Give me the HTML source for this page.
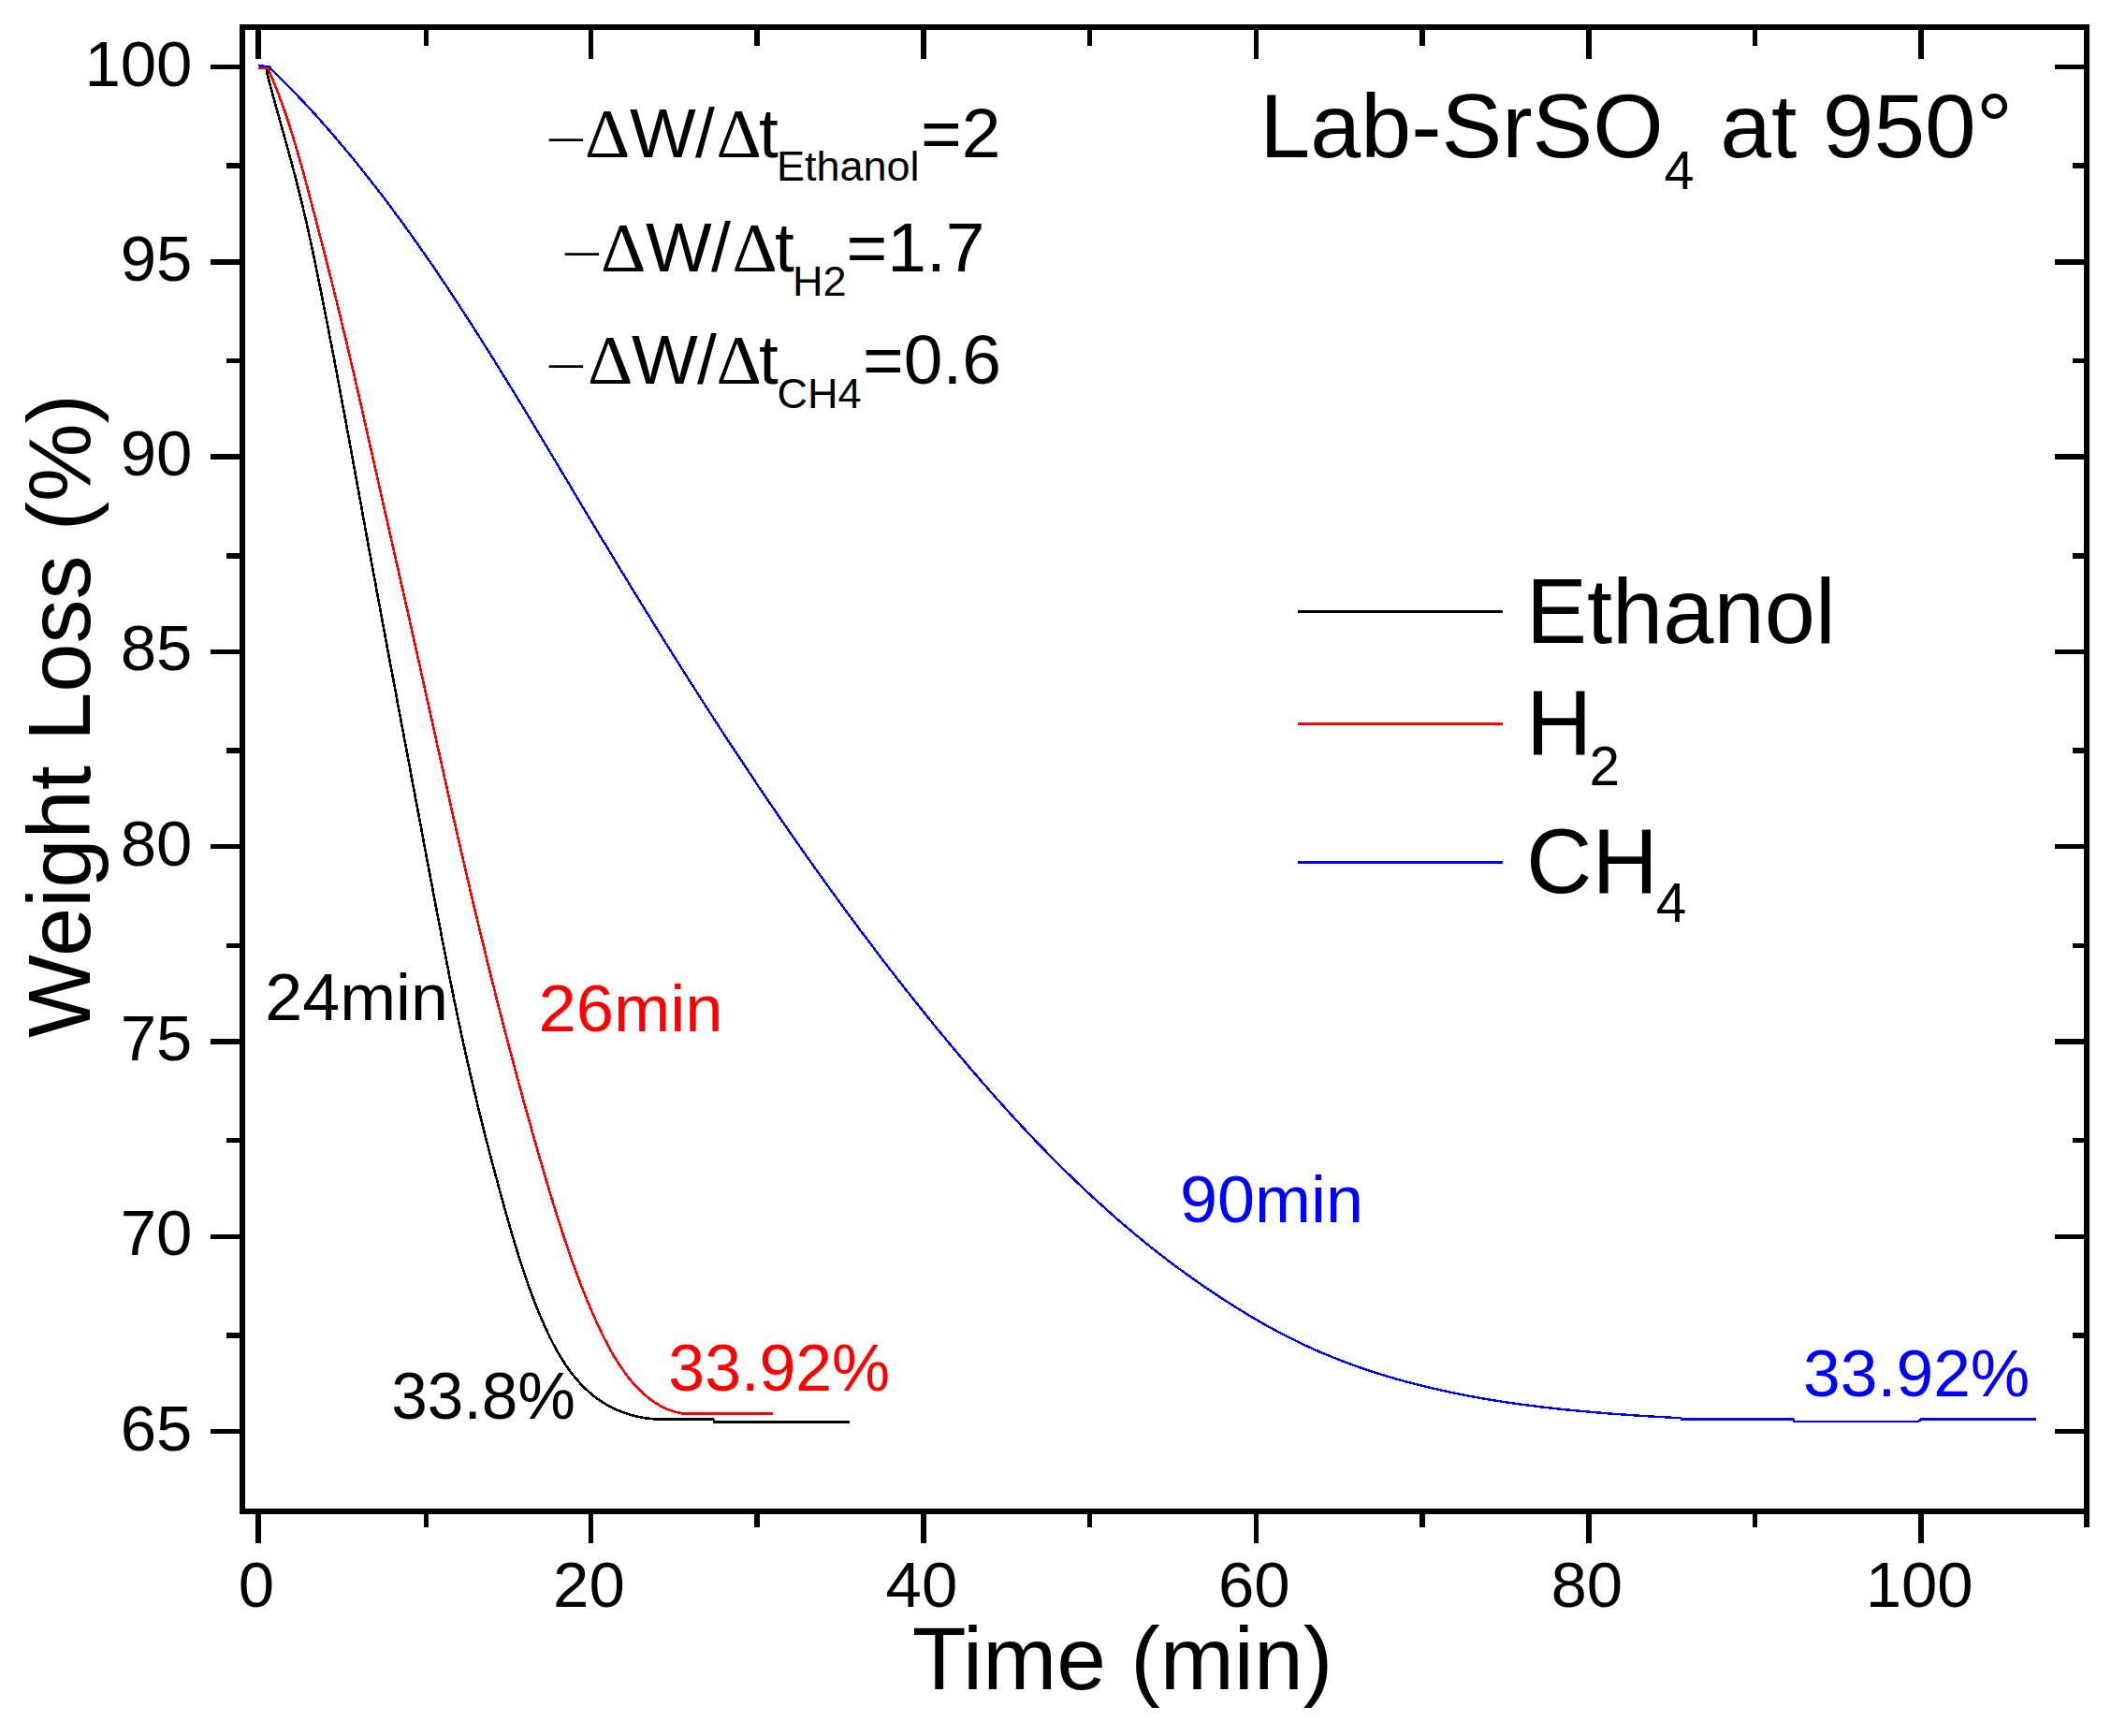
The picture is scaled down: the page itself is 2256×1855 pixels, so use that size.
<!DOCTYPE html>
<html lang="en"><head><meta charset="utf-8"><title>Lab-SrSO4 at 950 - Weight Loss vs Time</title>
<style>
html,body{margin:0;padding:0;background:#fff;}
body{width:2256px;height:1855px;overflow:hidden;}
svg{display:block;}
text{font-family:"Liberation Sans",Arial,Helvetica,sans-serif;}
.tk{font-size:69px;}
.an{font-size:70px;}
.ax{font-size:94px;}
.lg{font-size:97.5px;}
.eq{font-size:75px;}
</style></head><body>
<svg width="2256" height="1855" viewBox="0 0 2256 1855">
<rect x="0" y="0" width="2256" height="1855" fill="#fff"/>
<g fill="none" stroke-linejoin="round" shape-rendering="crispEdges">
<polyline stroke="#000" stroke-width="2.6" points="276.0,72.8 285.2,73.2 285.6,78.9 287.5,86.4 289.5,93.8 291.5,101.3 293.5,108.7 295.6,116.1 297.6,123.4 299.7,130.8 301.7,138.2 303.8,145.6 305.8,152.9 307.9,160.3 309.9,167.7 311.9,175.2 313.9,182.6 315.9,190.1 317.8,197.5 319.7,205.1 321.6,212.6 323.4,220.2 325.2,227.9 327.0,235.5 328.7,243.2 330.4,250.9 332.1,258.7 333.8,266.4 335.4,274.2 337.0,282.0 338.6,289.8 340.2,297.7 341.8,305.5 343.4,313.4 344.9,321.2 346.5,329.1 348.0,337.0 349.6,344.9 351.1,352.8 352.6,360.7 354.2,368.6 355.7,376.5 357.2,384.4 358.7,392.4 360.2,400.3 361.7,408.2 363.2,416.2 364.6,424.1 366.1,432.1 367.6,440.0 369.1,448.0 370.5,455.9 372.0,463.9 373.5,471.9 374.9,479.8 376.4,487.8 377.8,495.8 379.3,503.7 380.7,511.7 382.2,519.7 383.6,527.7 385.1,535.6 386.6,543.6 388.0,551.6 389.5,559.6 390.9,567.5 392.4,575.5 393.8,583.5 395.3,591.4 396.8,599.4 398.2,607.4 399.7,615.3 401.2,623.3 402.6,631.2 404.1,639.2 405.6,647.1 407.1,655.1 408.5,663.0 410.0,671.0 411.5,678.9 413.0,686.9 414.4,694.8 415.9,702.8 417.4,710.7 418.9,718.7 420.4,726.6 421.9,734.5 423.4,742.5 424.8,750.4 426.3,758.4 427.8,766.3 429.3,774.2 430.8,782.2 432.3,790.1 433.8,798.1 435.3,806.0 436.8,813.9 438.3,821.9 439.7,829.8 441.2,837.7 442.7,845.7 444.2,853.6 445.7,861.6 447.2,869.5 448.7,877.4 450.2,885.4 451.7,893.3 453.1,901.3 454.6,909.2 456.1,917.1 457.6,925.1 459.1,933.0 460.6,940.9 462.1,948.9 463.6,956.8 465.1,964.7 466.6,972.6 468.1,980.5 469.7,988.4 471.2,996.3 472.7,1004.3 474.2,1012.1 475.8,1020.0 477.3,1027.9 478.9,1035.8 480.4,1043.7 482.0,1051.5 483.6,1059.4 485.1,1067.2 486.8,1075.1 488.4,1082.9 490.0,1090.7 491.7,1098.4 493.3,1106.2 495.0,1113.9 496.7,1121.7 498.4,1129.4 500.2,1137.1 501.9,1144.7 503.7,1152.4 505.5,1160.0 507.3,1167.7 509.1,1175.3 510.9,1182.9 512.8,1190.4 514.7,1198.0 516.5,1205.5 518.4,1213.1 520.4,1220.6 522.3,1228.1 524.2,1235.6 526.2,1243.0 528.2,1250.5 530.2,1257.9 532.2,1265.3 534.2,1272.7 536.2,1280.1 538.3,1287.5 540.3,1294.9 542.4,1302.2 544.5,1309.6 546.6,1316.9 548.8,1324.1 551.0,1331.4 553.2,1338.6 555.4,1345.8 557.7,1352.9 560.1,1360.0 562.5,1367.0 564.9,1374.0 567.4,1380.9 570.0,1387.8 572.6,1394.6 575.3,1401.3 578.1,1407.9 581.0,1414.5 583.9,1421.0 586.9,1427.4 590.1,1433.7 593.3,1439.9 596.7,1445.9 600.3,1451.8 603.9,1457.5 607.8,1463.1 611.8,1468.5 616.1,1473.7 620.5,1478.7 625.2,1483.5 630.1,1488.0 635.2,1492.3 640.7,1496.2 646.4,1499.9 652.4,1503.3 658.8,1506.4 665.5,1509.1 672.6,1511.4 680.0,1513.4 687.9,1515.0 696.2,1516.1 704.9,1516.6 714.1,1516.6 723.7,1516.6 762.8,1516.6 762.8,1519.5 908.2,1519.5"/>
<polyline stroke="#f00" stroke-width="2.6" points="276.0,72.8 287.2,73.2 288.4,78.3 291.3,84.9 294.1,91.7 296.8,98.5 299.5,105.5 302.0,112.5 304.5,119.5 306.9,126.7 309.3,133.9 311.6,141.1 313.8,148.4 316.0,155.8 318.2,163.2 320.3,170.6 322.4,178.1 324.5,185.6 326.5,193.1 328.5,200.7 330.5,208.2 332.5,215.8 334.5,223.3 336.5,230.9 338.5,238.5 340.5,246.1 342.4,253.7 344.4,261.3 346.3,268.9 348.3,276.5 350.2,284.1 352.1,291.7 354.1,299.4 356.0,307.0 357.9,314.7 359.8,322.3 361.6,330.0 363.5,337.7 365.4,345.4 367.2,353.1 369.1,360.8 370.9,368.5 372.7,376.3 374.5,384.0 376.4,391.8 378.2,399.5 379.9,407.3 381.7,415.1 383.5,422.8 385.3,430.6 387.1,438.4 388.8,446.2 390.6,454.0 392.3,461.8 394.1,469.6 395.8,477.4 397.6,485.2 399.4,493.0 401.1,500.8 402.9,508.6 404.6,516.4 406.4,524.2 408.1,532.1 409.9,539.9 411.6,547.7 413.4,555.4 415.2,563.2 416.9,571.0 418.7,578.8 420.5,586.6 422.2,594.4 424.0,602.2 425.8,610.0 427.5,617.8 429.3,625.6 431.1,633.3 432.8,641.1 434.6,648.9 436.4,656.7 438.1,664.5 439.9,672.4 441.6,680.2 443.4,688.0 445.1,695.8 446.8,703.6 448.6,711.4 450.3,719.2 452.0,727.1 453.8,734.9 455.5,742.7 457.2,750.5 459.0,758.4 460.7,766.2 462.4,774.0 464.2,781.8 465.9,789.7 467.6,797.5 469.4,805.3 471.1,813.1 472.9,821.0 474.6,828.8 476.3,836.6 478.1,844.4 479.8,852.2 481.6,860.0 483.3,867.8 485.1,875.6 486.9,883.4 488.6,891.2 490.4,899.0 492.2,906.7 494.0,914.5 495.8,922.3 497.6,930.0 499.4,937.8 501.2,945.6 503.0,953.3 504.8,961.0 506.6,968.8 508.5,976.5 510.3,984.2 512.2,991.9 514.0,999.6 515.9,1007.3 517.8,1015.0 519.7,1022.7 521.5,1030.3 523.4,1038.0 525.3,1045.6 527.3,1053.3 529.2,1060.9 531.1,1068.5 533.0,1076.2 535.0,1083.8 536.9,1091.4 538.9,1099.0 540.9,1106.6 542.9,1114.1 544.9,1121.7 546.9,1129.3 548.9,1136.8 550.9,1144.4 552.9,1151.9 554.9,1159.4 557.0,1166.9 559.0,1174.4 561.1,1181.9 563.2,1189.4 565.3,1196.9 567.4,1204.3 569.5,1211.8 571.6,1219.2 573.7,1226.7 575.9,1234.1 578.0,1241.5 580.2,1248.9 582.3,1256.3 584.5,1263.6 586.7,1271.0 588.9,1278.4 591.2,1285.7 593.4,1293.0 595.7,1300.3 598.0,1307.5 600.3,1314.8 602.7,1322.0 605.1,1329.1 607.5,1336.3 609.9,1343.4 612.4,1350.4 615.0,1357.4 617.6,1364.4 620.2,1371.3 622.9,1378.2 625.6,1385.0 628.4,1391.8 631.2,1398.5 634.1,1405.2 637.1,1411.8 640.1,1418.3 643.2,1424.8 646.4,1431.2 649.6,1437.5 653.0,1443.7 656.5,1449.7 660.1,1455.6 663.9,1461.4 667.9,1467.0 672.0,1472.4 676.4,1477.6 681.0,1482.6 685.8,1487.3 690.8,1491.9 696.1,1496.1 701.8,1500.0 707.9,1503.5 714.5,1506.4 721.7,1508.8 729.6,1510.4 738.3,1510.7 747.8,1510.7 758.3,1510.4 825.8,1510.7"/>
<polyline stroke="#00f" stroke-width="2.4" points="276.0,70.2 288.5,71.2 289.3,73.1 295.0,78.7 300.7,84.4 306.4,90.2 312.0,95.9 317.6,101.8 323.1,107.6 328.6,113.5 334.1,119.4 339.5,125.4 344.8,131.4 350.2,137.5 355.5,143.6 360.7,149.7 365.9,155.9 371.1,162.1 376.3,168.3 381.4,174.6 386.5,180.9 391.5,187.3 396.5,193.6 401.5,200.0 406.5,206.5 411.4,212.9 416.3,219.4 421.1,226.0 426.0,232.5 430.8,239.1 435.5,245.7 440.3,252.3 445.0,259.0 449.7,265.7 454.4,272.4 459.1,279.1 463.7,285.9 468.3,292.7 472.9,299.5 477.5,306.3 482.0,313.1 486.5,320.0 491.0,326.9 495.5,333.8 500.0,340.7 504.5,347.6 508.9,354.6 513.3,361.5 517.7,368.5 522.1,375.5 526.5,382.5 530.9,389.5 535.2,396.5 539.6,403.6 543.9,410.6 548.3,417.7 552.6,424.8 556.9,431.8 561.2,438.9 565.5,446.0 569.8,453.1 574.0,460.2 578.3,467.3 582.6,474.5 586.9,481.6 591.1,488.7 595.4,495.8 599.6,503.0 603.9,510.1 608.2,517.2 612.4,524.4 616.7,531.5 620.9,538.6 625.2,545.7 629.5,552.9 633.7,560.0 638.0,567.1 642.3,574.2 646.6,581.3 650.9,588.4 655.1,595.5 659.4,602.6 663.8,609.7 668.1,616.7 672.4,623.8 676.7,630.9 681.0,637.9 685.4,645.0 689.7,652.0 694.1,659.1 698.4,666.1 702.8,673.1 707.1,680.1 711.5,687.2 715.9,694.2 720.3,701.2 724.7,708.1 729.1,715.1 733.5,722.1 737.9,729.1 742.4,736.0 746.8,743.0 751.3,749.9 755.7,756.8 760.2,763.8 764.7,770.7 769.1,777.6 773.6,784.5 778.1,791.3 782.7,798.2 787.2,805.1 791.7,811.9 796.3,818.8 800.8,825.6 805.4,832.4 809.9,839.3 814.5,846.1 819.1,852.9 823.7,859.6 828.4,866.4 833.0,873.2 837.6,879.9 842.3,886.6 846.9,893.4 851.6,900.1 856.3,906.8 861.0,913.5 865.7,920.1 870.4,926.8 875.2,933.4 879.9,940.1 884.7,946.7 889.5,953.3 894.3,959.9 899.1,966.5 903.9,973.1 908.7,979.6 913.6,986.2 918.4,992.7 923.3,999.2 928.2,1005.7 933.1,1012.2 938.0,1018.7 942.9,1025.1 947.9,1031.6 952.9,1038.0 957.8,1044.4 962.8,1050.8 967.8,1057.2 972.9,1063.5 977.9,1069.9 983.0,1076.2 988.0,1082.5 993.1,1088.8 998.2,1095.1 1003.3,1101.4 1008.5,1107.6 1013.6,1113.8 1018.8,1120.1 1024.0,1126.3 1029.2,1132.4 1034.4,1138.6 1039.7,1144.7 1045.0,1150.9 1050.2,1157.0 1055.6,1163.0 1060.9,1169.1 1066.2,1175.1 1071.6,1181.1 1077.0,1187.1 1082.5,1193.1 1087.9,1199.0 1093.4,1204.9 1098.9,1210.8 1104.4,1216.6 1110.0,1222.5 1115.6,1228.2 1121.2,1234.0 1126.9,1239.7 1132.6,1245.4 1138.3,1251.1 1144.1,1256.7 1149.9,1262.3 1155.7,1267.9 1161.6,1273.4 1167.5,1278.9 1173.4,1284.3 1179.4,1289.7 1185.4,1295.1 1191.4,1300.4 1197.5,1305.7 1203.7,1311.0 1209.9,1316.2 1216.1,1321.4 1222.3,1326.5 1228.6,1331.6 1235.0,1336.6 1241.4,1341.6 1247.8,1346.5 1254.3,1351.4 1260.9,1356.3 1267.5,1361.1 1274.1,1365.8 1280.8,1370.5 1287.5,1375.2 1294.3,1379.8 1301.1,1384.3 1308.0,1388.8 1315.0,1393.3 1322.0,1397.7 1329.0,1402.0 1336.1,1406.3 1343.3,1410.5 1350.5,1414.7 1357.8,1418.7 1365.2,1422.7 1372.7,1426.7 1380.2,1430.5 1387.9,1434.3 1395.6,1437.9 1403.4,1441.5 1411.3,1445.0 1419.3,1448.3 1427.5,1451.6 1435.7,1454.8 1444.0,1457.9 1452.4,1460.9 1460.8,1463.8 1469.4,1466.6 1478.1,1469.3 1486.9,1471.9 1495.7,1474.5 1504.7,1476.9 1513.7,1479.3 1522.8,1481.5 1532.0,1483.7 1541.3,1485.8 1550.7,1487.8 1560.1,1489.8 1569.6,1491.6 1579.3,1493.4 1589.0,1495.1 1598.8,1496.7 1608.6,1498.2 1618.6,1499.7 1628.6,1501.0 1638.6,1502.3 1648.8,1503.6 1659.0,1504.7 1669.3,1505.9 1679.6,1506.9 1690.0,1507.9 1700.5,1508.8 1711.0,1509.7 1721.5,1510.6 1732.1,1511.3 1742.8,1512.1 1753.5,1512.8 1764.2,1513.5 1774.9,1514.1 1785.7,1514.7 1796.5,1515.3 1797.0,1516.6 1917.0,1516.6 1917.0,1519.2 2050.0,1519.2 2053.0,1516.6 2176.0,1516.6"/>
</g>
<g stroke="#000" stroke-width="5.5" fill="none" shape-rendering="crispEdges">
<rect x="259.0" y="29.0" width="1971.0" height="1585.8"/>
<line x1="276.0" y1="29.0" x2="276.0" y2="62.6"/>
<line x1="276.0" y1="1614.8" x2="276.0" y2="1648.8"/>
<line x1="631.4" y1="29.0" x2="631.4" y2="62.6"/>
<line x1="631.4" y1="1614.8" x2="631.4" y2="1648.8"/>
<line x1="986.9" y1="29.0" x2="986.9" y2="62.6"/>
<line x1="986.9" y1="1614.8" x2="986.9" y2="1648.8"/>
<line x1="1342.3" y1="29.0" x2="1342.3" y2="62.6"/>
<line x1="1342.3" y1="1614.8" x2="1342.3" y2="1648.8"/>
<line x1="1697.8" y1="29.0" x2="1697.8" y2="62.6"/>
<line x1="1697.8" y1="1614.8" x2="1697.8" y2="1648.8"/>
<line x1="2053.2" y1="29.0" x2="2053.2" y2="62.6"/>
<line x1="2053.2" y1="1614.8" x2="2053.2" y2="1648.8"/>
<line x1="455.3" y1="29.0" x2="455.3" y2="48.7"/>
<line x1="455.3" y1="1614.8" x2="455.3" y2="1631.5"/>
<line x1="809.2" y1="29.0" x2="809.2" y2="48.7"/>
<line x1="809.2" y1="1614.8" x2="809.2" y2="1631.5"/>
<line x1="1164.6" y1="29.0" x2="1164.6" y2="48.7"/>
<line x1="1164.6" y1="1614.8" x2="1164.6" y2="1631.5"/>
<line x1="1520.0" y1="29.0" x2="1520.0" y2="48.7"/>
<line x1="1520.0" y1="1614.8" x2="1520.0" y2="1631.5"/>
<line x1="1875.5" y1="29.0" x2="1875.5" y2="48.7"/>
<line x1="1875.5" y1="1614.8" x2="1875.5" y2="1631.5"/>
<line x1="2230.0" y1="1614.8" x2="2230.0" y2="1631.8"/>
<line x1="225" y1="1529.6" x2="259.0" y2="1529.6"/>
<line x1="2196" y1="1529.6" x2="2230.0" y2="1529.6"/>
<line x1="225" y1="1321.3" x2="259.0" y2="1321.3"/>
<line x1="2196" y1="1321.3" x2="2230.0" y2="1321.3"/>
<line x1="225" y1="1113.0" x2="259.0" y2="1113.0"/>
<line x1="2196" y1="1113.0" x2="2230.0" y2="1113.0"/>
<line x1="225" y1="904.7" x2="259.0" y2="904.7"/>
<line x1="2196" y1="904.7" x2="2230.0" y2="904.7"/>
<line x1="225" y1="696.4" x2="259.0" y2="696.4"/>
<line x1="2196" y1="696.4" x2="2230.0" y2="696.4"/>
<line x1="225" y1="488.1" x2="259.0" y2="488.1"/>
<line x1="2196" y1="488.1" x2="2230.0" y2="488.1"/>
<line x1="225" y1="279.8" x2="259.0" y2="279.8"/>
<line x1="2196" y1="279.8" x2="2230.0" y2="279.8"/>
<line x1="225" y1="71.5" x2="259.0" y2="71.5"/>
<line x1="2196" y1="71.5" x2="2230.0" y2="71.5"/>
<line x1="242" y1="1427.0" x2="259.0" y2="1427.0"/>
<line x1="2214.5" y1="1427.0" x2="2230.0" y2="1427.0"/>
<line x1="242" y1="1218.7" x2="259.0" y2="1218.7"/>
<line x1="2214.5" y1="1218.7" x2="2230.0" y2="1218.7"/>
<line x1="242" y1="1010.4" x2="259.0" y2="1010.4"/>
<line x1="2214.5" y1="1010.4" x2="2230.0" y2="1010.4"/>
<line x1="242" y1="802.1" x2="259.0" y2="802.1"/>
<line x1="2214.5" y1="802.1" x2="2230.0" y2="802.1"/>
<line x1="242" y1="593.9" x2="259.0" y2="593.9"/>
<line x1="2214.5" y1="593.9" x2="2230.0" y2="593.9"/>
<line x1="242" y1="385.6" x2="259.0" y2="385.6"/>
<line x1="2214.5" y1="385.6" x2="2230.0" y2="385.6"/>
<line x1="242" y1="177.2" x2="259.0" y2="177.2"/>
<line x1="2214.5" y1="177.2" x2="2230.0" y2="177.2"/>
</g>
<g class="tk" fill="#000">
<text x="205.5" y="1549.6" text-anchor="end">65</text>
<text x="205.5" y="1341.3" text-anchor="end">70</text>
<text x="205.5" y="1133.0" text-anchor="end">75</text>
<text x="205.5" y="924.7" text-anchor="end">80</text>
<text x="205.5" y="716.4" text-anchor="end">85</text>
<text x="205.5" y="508.1" text-anchor="end">90</text>
<text x="205.5" y="299.8" text-anchor="end">95</text>
<text x="205.5" y="91.5" text-anchor="end">100</text>
<text x="274.0" y="1716.5" text-anchor="middle">0</text>
<text x="629.4" y="1716.5" text-anchor="middle">20</text>
<text x="984.9" y="1716.5" text-anchor="middle">40</text>
<text x="1340.3" y="1716.5" text-anchor="middle">60</text>
<text x="1695.8" y="1716.5" text-anchor="middle">80</text>
<text x="2051.2" y="1716.5" text-anchor="middle">100</text>
</g>
<text class="ax" transform="translate(974.7,1805.2) scale(1.009,1)">Time (min)</text>
<text class="ax" transform="translate(96,1109) rotate(-90)">Weight Loss (%)</text>
<text class="lg" style="font-size:97px" x="1346.3" y="168">Lab-SrSO<tspan style="font-size:57.5px" dx="1" dy="33.8">4</tspan></text>
<text class="lg" style="font-size:97px" transform="translate(1838.3,168) scale(1.0144,1)">at 950°</text>
<g stroke-width="2.8" shape-rendering="crispEdges">
<line x1="1386.7" y1="653.4" x2="1606.2" y2="653.4" stroke="#000"/>
<line x1="1386.7" y1="773.1" x2="1606.2" y2="773.1" stroke="#f00"/>
<line x1="1386.7" y1="921.4" x2="1606.2" y2="921.4" stroke="#00f"/>
</g>
<text class="lg" x="1631" y="686.7">Ethanol</text>
<text class="lg" x="1631" y="805.9">H<tspan style="font-size:58.5px" dx="-3" dy="33.5">2</tspan></text>
<text class="lg" x="1631" y="953.5">CH<tspan style="font-size:58.5px" dx="-2" dy="31">4</tspan></text>
<text class="an" transform="translate(283.2,1090.1) scale(1.0268,1)">24min</text>
<text class="an" fill="#f00" transform="translate(575.4,1101.5) scale(1.0344,1)">26min</text>
<text class="an" fill="#00f" transform="translate(1260.9,1306.3) scale(1.0284,1)">90min</text>
<text class="an" transform="translate(418.3,1516) scale(0.991,1)">33.8%</text>
<text class="an" fill="#f00" transform="translate(714.3,1485.8) scale(0.998,1)">33.92%</text>
<text class="an" fill="#00f" transform="translate(1927.1,1491.7) scale(1.0207,1)">33.92%</text>
<text class="eq" transform="translate(583,161.8) scale(1,0.5)">−</text><text class="eq"><tspan x="625" y="168.3" style="font-family:'Liberation Serif',serif">Δ</tspan><tspan x="673" y="168.3">W</tspan><tspan x="743" y="168.3">/</tspan><tspan x="765.5" y="168.3" style="font-family:'Liberation Serif',serif">Δ</tspan><tspan x="811" y="168.3">t</tspan><tspan x="830" y="193.3" style="font-size:45px">Ethanol</tspan><tspan x="984" y="168.3">=2</tspan></text>
<text class="eq" transform="translate(600,283.8) scale(1,0.5)">−</text><text class="eq"><tspan x="642" y="290.3" style="font-family:'Liberation Serif',serif">Δ</tspan><tspan x="690" y="290.3">W</tspan><tspan x="760" y="290.3">/</tspan><tspan x="782.5" y="290.3" style="font-family:'Liberation Serif',serif">Δ</tspan><tspan x="828" y="290.3">t</tspan><tspan x="847" y="315.9" style="font-size:45px">H2</tspan><tspan x="904.5" y="290.3">=1.7</tspan></text>
<text class="eq" transform="translate(583,403.5) scale(1,0.5)">−</text><text class="eq"><tspan x="628" y="410" style="font-family:'Liberation Serif',serif">Δ</tspan><tspan x="675" y="410">W</tspan><tspan x="745" y="410">/</tspan><tspan x="765.5" y="410" style="font-family:'Liberation Serif',serif">Δ</tspan><tspan x="811" y="410">t</tspan><tspan x="830.5" y="435.6" style="font-size:45px">CH4</tspan><tspan x="922" y="410">=0.6</tspan></text>
</svg></body></html>
